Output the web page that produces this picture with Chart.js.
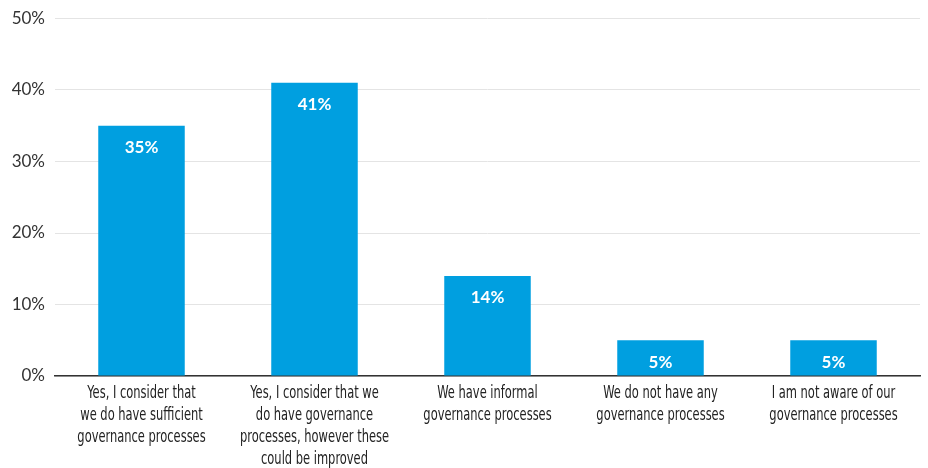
<!DOCTYPE html>
<html>
<head>
<meta charset="utf-8">
<script src="https://cdn.jsdelivr.net/npm/chart.js@4/dist/chart.umd.min.js"></script>
<style>
  html, body { margin: 0; padding: 0; background: #fff; }
  #wrap { width: 928px; height: 468px; }
</style>
</head>
<body>
<div id="wrap"><canvas id="govchart"></canvas></div>
<script>
var categories = [
  ["Yes, I consider that", "we do have sufficient", "governance processes"],
  ["Yes, I consider that we", "do have governance", "processes, however these", "could be improved"],
  ["We have informal", "governance processes"],
  ["We do not have any", "governance processes"],
  ["I am not aware of our", "governance processes"]
];
var shares = [35, 41, 14, 5, 5];
var yTicks = [0, 10, 20, 30, 40, 50];

// white value labels near the top of each bar
var valueLabels = {
  id: 'valueLabels',
  afterDatasetsDraw: function(chart) {
    var ctx = chart.ctx;
    var meta = chart.getDatasetMeta(0);
    ctx.save();
    ctx.fillStyle = '#ffffff';
    ctx.font = 'bold 17px Lato, sans-serif';
    ctx.textAlign = 'center';
    ctx.textBaseline = 'middle';
    meta.data.forEach(function(bar, i) {
      ctx.fillText(shares[i] + '%', bar.x, bar.y + 22);
    });
    ctx.restore();
  }
};

// narrow, multi-line category labels under the axis
var categoryLabels = {
  id: 'categoryLabels',
  afterDraw: function(chart) {
    var ctx = chart.ctx;
    var xs = chart.scales.x;
    var squeeze = 0.75;
    ctx.save();
    ctx.fillStyle = '#222222';
    ctx.font = "17px 'DejaVu Sans Condensed', 'DejaVu Sans', sans-serif";
    ctx.textAlign = 'center';
    ctx.textBaseline = 'middle';
    categories.forEach(function(lines, i) {
      var cx = xs.getPixelForValue(i);
      lines.forEach(function(line, j) {
        ctx.save();
        ctx.translate(cx, xs.top + 18 + j * 22);
        ctx.scale(squeeze, 1);
        ctx.fillText(line, 0, 0);
        ctx.restore();
      });
    });
    ctx.restore();
  }
};

var ctx = document.getElementById('govchart').getContext('2d');
var myChart = new Chart(ctx, {
  type: 'bar',
  data: {
    labels: categories,
    datasets: [{
      data: shares,
      backgroundColor: '#009fe0',
      borderWidth: 0,
      barPercentage: 0.5,
      categoryPercentage: 1.0
    }]
  },
  options: {
    responsive: true,
    maintainAspectRatio: false,
    animation: false,
    layout: { padding: { top: 17, right: 8, left: 0, bottom: 0 } },
    plugins: {
      legend: { display: false },
      tooltip: { enabled: false }
    },
    scales: {
      x: {
        grid: { display: false, drawTicks: false },
        border: { display: true, color: '#333333', width: 1.5 },
        ticks: { display: false },
        afterFit: function(scale) { scale.height = 92; }
      },
      y: {
        min: 0,
        max: 50,
        afterBuildTicks: function(scale) {
          scale.ticks = yTicks.map(function(v) { return { value: v }; });
        },
        grid: { color: '#e4e4e4', lineWidth: 1, drawTicks: false },
        border: { display: false },
        ticks: {
          color: '#333333',
          font: { family: "Lato, sans-serif", size: 17, lineHeight: 1 },
          padding: 10,
          callback: function(v) { return v + '%'; }
        },
        afterFit: function(scale) { scale.width = 55; }
      }
    }
  },
  plugins: [valueLabels, categoryLabels]
});
</script>
</body>
</html>
